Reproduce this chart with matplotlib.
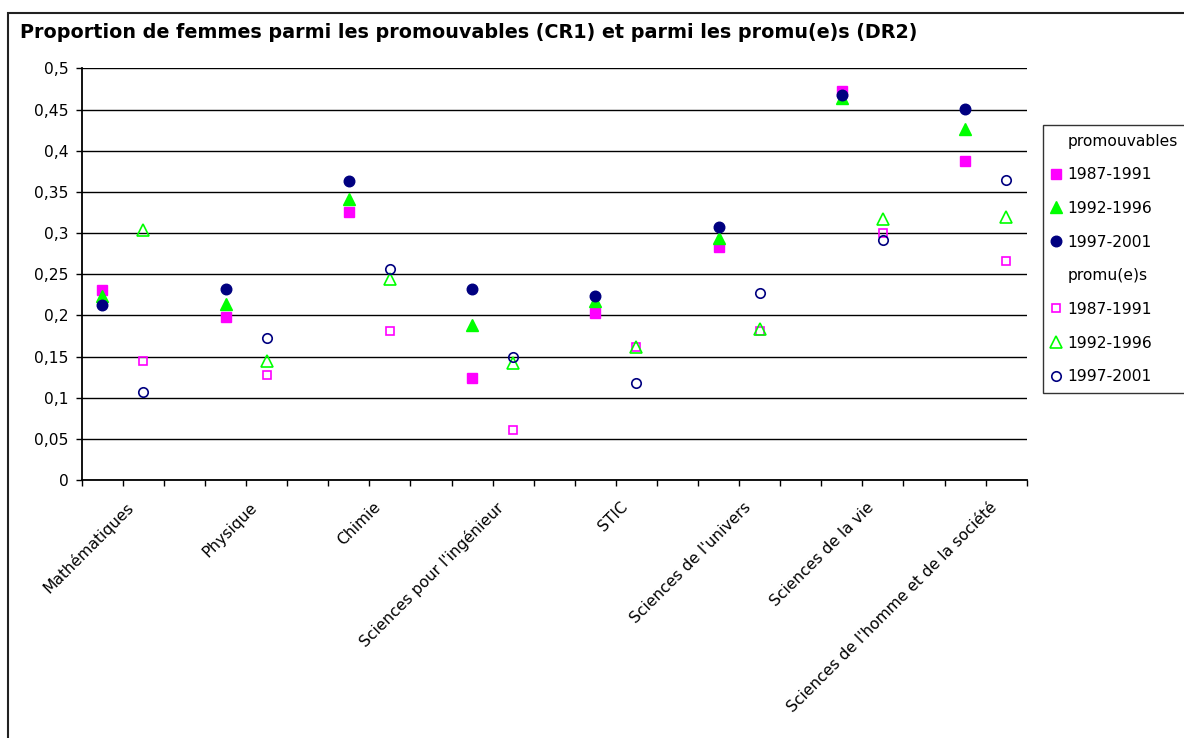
import numpy as np
import matplotlib
matplotlib.use("Agg")
import matplotlib.pyplot as plt
from matplotlib.lines import Line2D
from matplotlib.patches import Rectangle

plt.rcParams['font.family'] = ['DejaVu Sans']

categories = ["Mathématiques", "Physique", "Chimie", "Sciences pour l'ingénieur", "STIC",
              "Sciences de l'univers", "Sciences de la vie",
              "Sciences de l'homme et de la société"]
periods = ["1987-1991", "1992-1996", "1997-2001"]

# promouvables (CR1)
prom_8791 = [0.231, 0.198, 0.326, 0.124, 0.203, 0.283, 0.473, 0.387]
prom_9296 = [0.223, 0.214, 0.342, 0.188, 0.217, 0.294, 0.464, 0.426]
prom_9701 = [0.213, 0.232, 0.363, 0.232, 0.223, 0.307, 0.468, 0.451]
# promu(e)s (DR2)
promus_8791 = [0.145, 0.128, 0.181, 0.061, 0.161, 0.181, 0.300, 0.266]
promus_9296 = [0.304, 0.144, 0.244, 0.142, 0.162, 0.183, 0.317, 0.320]
promus_9701 = [0.107, 0.172, 0.256, 0.150, 0.118, 0.227, 0.292, 0.364]

y_ticks = [0, 0.05, 0.1, 0.15, 0.2, 0.25, 0.3, 0.35, 0.4, 0.45, 0.5]

PINK, GREEN, NAVY = "#ff00ff", "#00ff00", "#000080"
FS = 11.2

fig = plt.figure(figsize=(11.84, 7.38), dpi=100, facecolor="white")
ax = fig.add_axes([0.069, 0.3496, 0.7982, 0.5576])

# 3 slots per discipline (promouvables, promu(e)s, gap), last gap dropped
n_slots = len(categories) * 3 - 1
x_prom = np.arange(len(categories)) * 3 + 0.5
x_promus = x_prom + 1

filled = [(prom_8791, "s", PINK, 7.2), (prom_9296, "^", GREEN, 8.2), (prom_9701, "o", NAVY, 7.6)]
hollow = [(promus_8791, "s", PINK, 6.4), (promus_9296, "^", GREEN, 8.0), (promus_9701, "o", NAVY, 6.8)]

handles = [Line2D([], [], linestyle="none", marker="")]
labels = ["promouvables"]
for (vals, mk, col, ms), lab in zip(filled, periods):
    ax.plot(x_prom, vals, linestyle="none", marker=mk, color=col, ms=ms, mec=col, zorder=3)
    handles.append(Line2D([], [], linestyle="none", marker=mk, color=col, ms=ms, mec=col))
    labels.append(lab)
handles.append(Line2D([], [], linestyle="none", marker=""))
labels.append("promu(e)s")
for (vals, mk, col, ms), lab in zip(hollow, periods):
    ax.plot(x_promus, vals, linestyle="none", marker=mk, mfc="none", mec=col, mew=1.2, ms=ms, zorder=3)
    handles.append(Line2D([], [], linestyle="none", marker=mk, mfc="none", mec=col, mew=1.2, ms=ms))
    labels.append(lab)

ax.set_xlim(0, n_slots)
ax.set_ylim(0, 0.5)
ax.set_yticks(y_ticks)
ax.set_yticklabels([("%g" % v).replace(".", ",") for v in y_ticks], fontsize=FS)
ax.yaxis.grid(True, color="black", lw=1.0)
ax.set_axisbelow(True)

ax.set_xticks(np.arange(0, n_slots + 1), minor=True)
ax.set_xticks(x_prom + 0.85)
ax.set_xticklabels(categories, rotation=45, ha="right", fontsize=FS)
ax.tick_params(axis="x", which="major", length=0, pad=14)
ax.tick_params(axis="x", which="minor", length=4.5, width=1.0, direction="out", color="black")
ax.tick_params(axis="y", length=4.5, width=1.0, direction="out", pad=5)

for sp in ["top", "right"]:
    ax.spines[sp].set_visible(False)
for sp in ["left", "bottom"]:
    ax.spines[sp].set_color("black")
    ax.spines[sp].set_linewidth(1.3)

fig.text(20 / 1184, 1 - 33 / 738, "Proportion de femmes parmi les promouvables (CR1) et parmi les promu(e)s (DR2)",
         fontsize=13.8, fontweight="bold", ha="left", va="center")

leg = fig.legend(handles, labels, loc="upper left", bbox_to_anchor=(1042.5 / 1184, 1 - 125 / 738),
                 fontsize=FS, frameon=True, fancybox=False, edgecolor="black",
                 handlelength=0.6, handletextpad=0.45, borderpad=0.55, labelspacing=1.2,
                 borderaxespad=0)
leg.get_frame().set_linewidth(1.0)

# outer chart border, running off the right and bottom edges
top = 1 - 13 / 738
fig.add_artist(Rectangle((8 / 1184, -0.05), 1.05, top + 0.05, transform=fig.transFigure,
                         fill=False, edgecolor="#222222", lw=1.5))

fig.savefig("out.png", dpi=100, facecolor="white")
